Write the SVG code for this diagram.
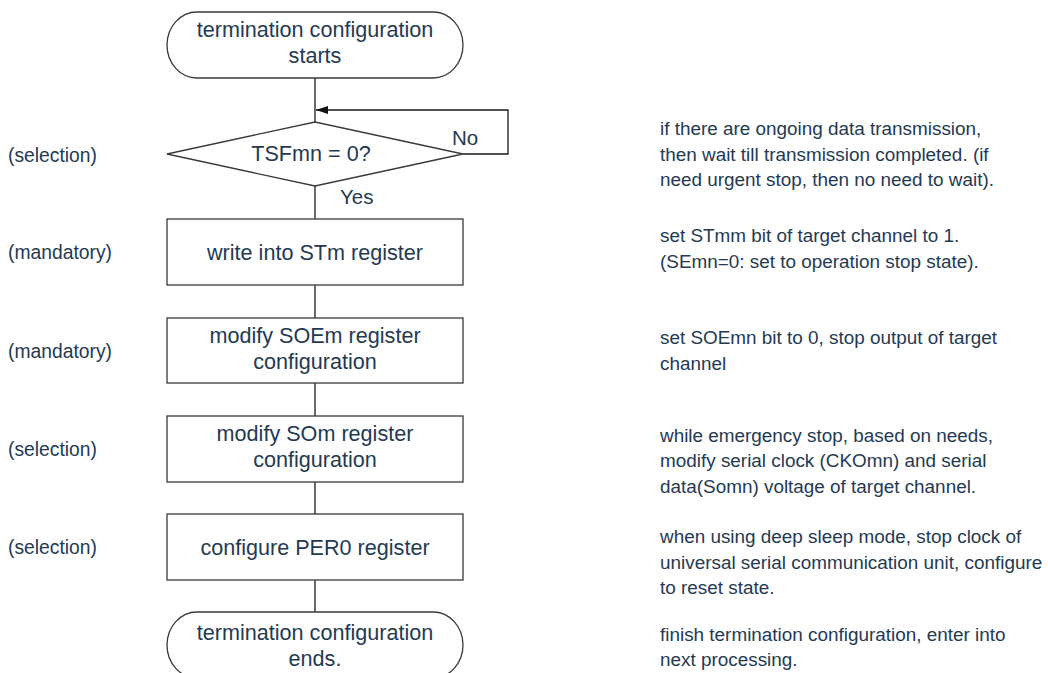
<svg xmlns="http://www.w3.org/2000/svg" width="1048" height="673" viewBox="0 0 1048 673">
<defs>
<style>
text{font-family:"Liberation Sans",Arial,sans-serif;fill:#243a52}
.n{font-size:21.6px;text-anchor:middle}
.s{font-size:19.3px}
.r{font-size:18.9px}
.yn{font-size:20.5px}
.shape{fill:#fff;stroke:#3a3a3a;stroke-width:1.3}
.c{fill:none;stroke:#1a1a1a;stroke-width:1.3}
</style>
<marker id="ah" viewBox="0 0 12 8" refX="12" refY="4" markerWidth="12" markerHeight="8" markerUnits="userSpaceOnUse" orient="auto">
<path d="M0,0 L12,4 L0,8 Z" fill="#111"/>
</marker>
</defs>
<rect width="1048" height="673" fill="#fff"/>
<g id="connectors">
<line class="c" x1="315" y1="78" x2="315" y2="122"/>
<polyline class="c" points="463,154 508,154 508,110 316,110" marker-end="url(#ah)"/>
<line class="c" x1="315" y1="186" x2="315" y2="219"/>
<line class="c" x1="315" y1="285" x2="315" y2="318"/>
<line class="c" x1="315" y1="383" x2="315" y2="416"/>
<line class="c" x1="315" y1="482" x2="315" y2="514"/>
<line class="c" x1="315" y1="580" x2="315" y2="612"/>
<text class="yn" x="452" y="145">No</text>
<text class="yn" x="340" y="204">Yes</text>
</g>
<g id="start">
<rect class="shape" x="167" y="12" width="296" height="66" rx="30" ry="33"/>
<text class="n" x="315" y="37">termination configuration</text>
<text class="n" x="315" y="63">starts</text>
</g>
<g id="decision">
<polygon class="shape" points="167,154 315,122 463,154 315,186"/>
<text class="n" x="311" y="161">TSFmn = 0?</text>
</g>
<g id="write-stm">
<rect class="shape" x="167" y="219" width="296" height="66"/>
<text class="n" x="315" y="260">write into STm register</text>
</g>
<g id="modify-soem">
<rect class="shape" x="167" y="318" width="296" height="65"/>
<text class="n" x="315" y="343">modify SOEm register</text>
<text class="n" x="315" y="369">configuration</text>
</g>
<g id="modify-som">
<rect class="shape" x="167" y="416" width="296" height="66"/>
<text class="n" x="315" y="441">modify SOm register</text>
<text class="n" x="315" y="467">configuration</text>
</g>
<g id="config-per0">
<rect class="shape" x="167" y="514" width="296" height="66"/>
<text class="n" x="315" y="555">configure PER0 register</text>
</g>
<g id="end">
<rect class="shape" x="167" y="612" width="296" height="66" rx="30" ry="33"/>
<text class="n" x="315" y="640">termination configuration</text>
<text class="n" x="315" y="666">ends.</text>
</g>
<g id="left-labels">
<text class="s" x="8" y="162">(selection)</text>
<text class="s" x="8" y="259">(mandatory)</text>
<text class="s" x="8" y="358">(mandatory)</text>
<text class="s" x="8" y="456">(selection)</text>
<text class="s" x="8" y="554">(selection)</text>
</g>
<g id="notes">
<text class="r" x="660" y="135">if there are ongoing data transmission,</text>
<text class="r" x="660" y="161">then wait till transmission completed. (if</text>
<text class="r" x="660" y="186">need urgent stop, then no need to wait).</text>
<text class="r" x="660" y="242">set STmm bit of target channel to 1.</text>
<text class="r" x="660" y="268">(SEmn=0: set to operation stop state).</text>
<text class="r" x="660" y="344">set SOEmn bit to 0, stop output of target</text>
<text class="r" x="660" y="370">channel</text>
<text class="r" x="660" y="442">while emergency stop, based on needs,</text>
<text class="r" x="660" y="467">modify serial clock (CKOmn) and serial</text>
<text class="r" x="660" y="493">data(Somn) voltage of target channel.</text>
<text class="r" x="660" y="543">when using deep sleep mode, stop clock of</text>
<text class="r" x="660" y="569">universal serial communication unit, configure</text>
<text class="r" x="660" y="594">to reset state.</text>
<text class="r" x="660" y="641">finish termination configuration, enter into</text>
<text class="r" x="660" y="666">next processing.</text>
</g>
</svg>
